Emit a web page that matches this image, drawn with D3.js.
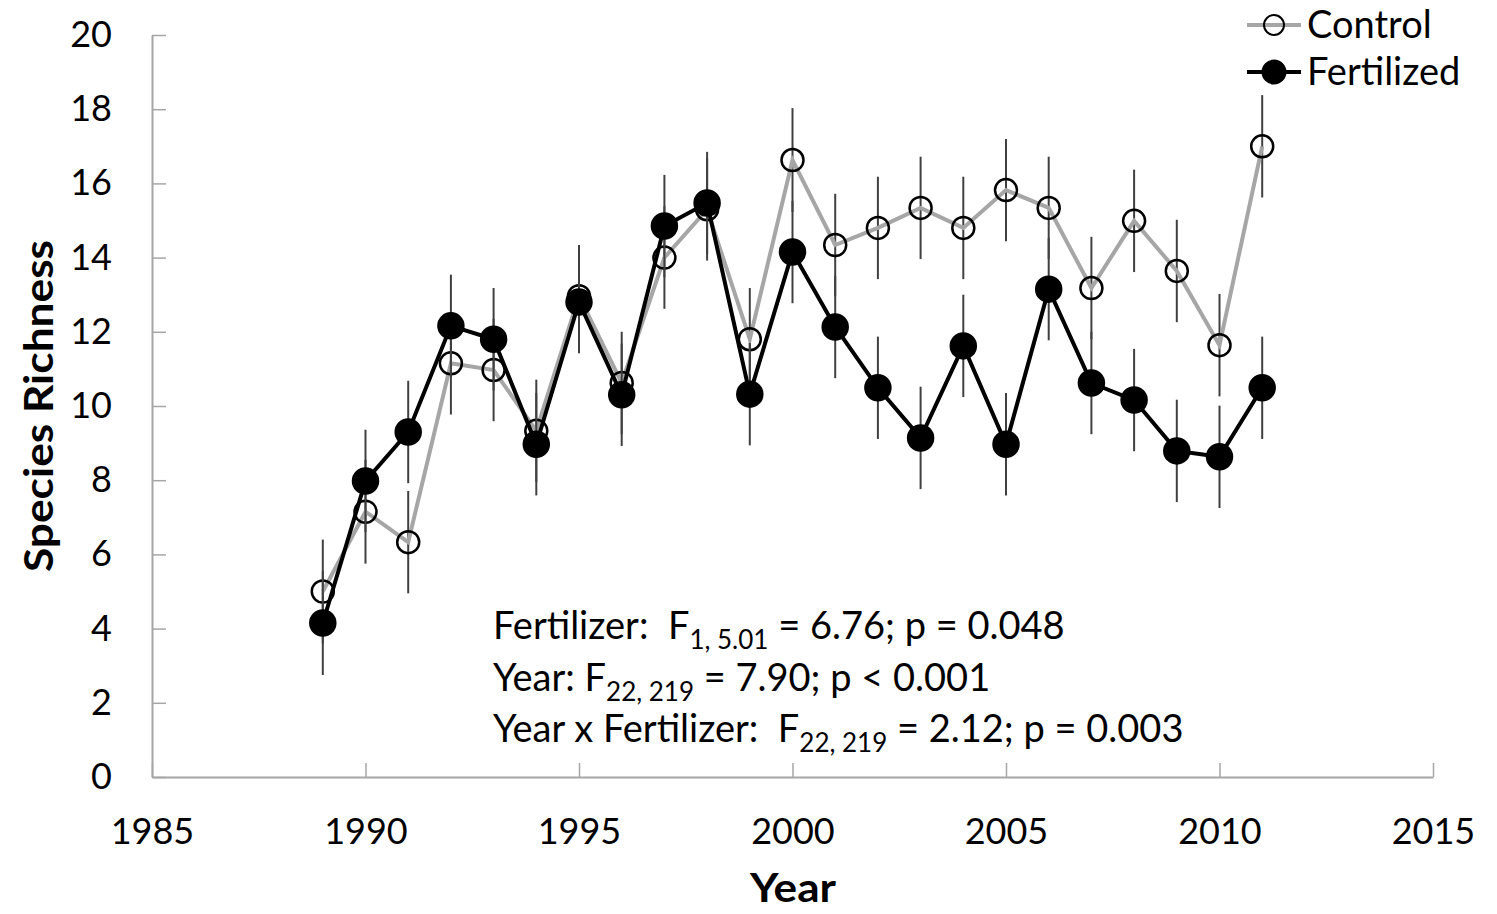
<!DOCTYPE html>
<html>
<head>
<meta charset="utf-8">
<script src="https://cdn.jsdelivr.net/npm/d3@7"></script>
<style>
  body { margin: 0; background: #fff; }
  text { font-family: Lato, "Open Sans", sans-serif; fill: #000; white-space: pre; }
</style>
</head>
<body>
<script>
// data
const years = [1989, 1990, 1991, 1992, 1993, 1994, 1995, 1996, 1997, 1998, 1999, 2000,
               2001, 2002, 2003, 2004, 2005, 2006, 2007, 2008, 2009, 2010, 2011];
const control = [5.0, 7.15, 6.33, 11.15, 10.97, 9.33, 12.96, 10.62, 14.0, 15.3, 11.8, 16.63,
                 14.34, 14.8, 15.34, 14.8, 15.82, 15.34, 13.18, 14.99, 13.64, 11.64, 17.0];
const fertilized = [4.15, 7.98, 9.3, 12.16, 11.8, 8.97, 12.8, 10.3, 14.85, 15.47, 10.32, 14.15,
                    12.13, 10.49, 9.14, 11.62, 8.97, 13.15, 10.62, 10.16, 8.79, 8.63, 10.49];
const controlSE = [1.4, 1.4, 1.38, 1.38, 1.38, 1.38, 1.38, 1.38, 1.38, 1.38, 1.38, 1.4,
                   1.38, 1.38, 1.38, 1.38, 1.38, 1.38, 1.38, 1.38, 1.38, 1.38, 1.38];
const fertilizedSE = [1.4, 1.38, 1.38, 1.38, 1.38, 1.38, 1.38, 1.38, 1.38, 1.38, 1.38, 1.38,
                      1.38, 1.38, 1.38, 1.38, 1.38, 1.38, 1.38, 1.38, 1.38, 1.38, 1.38];
const xTicks = [1985, 1990, 1995, 2000, 2005, 2010, 2015];
const yTicks = [0, 2, 4, 6, 8, 10, 12, 14, 16, 18, 20];
const statLines = [
  { pre: "Fertilizer:  F", sub: "1, 5.01", post: "= 6.76; p = 0.048" },
  { pre: "Year: F", sub: "22, 219", post: "= 7.90; p < 0.001" },
  { pre: "Year x Fertilizer:  F", sub: "22, 219", post: "= 2.12; p = 0.003" }
];

const W = 1497, H = 914;
const plot = { left: 152, right: 1433, top: 35, bottom: 777 };

const svg = d3.select("body").append("svg").attr("width", W).attr("height", H);

const x = d3.scaleLinear().domain([1985, 2015]).range([plot.left, plot.right]);
const y = d3.scaleLinear().domain([0, 20]).range([plot.bottom, plot.top]);

// axes
const axisColor = "#a6a6a6";
const gx = svg.append("g")
  .attr("transform", "translate(0," + plot.bottom + ")")
  .call(d3.axisBottom(x).tickValues(xTicks).tickFormat(d3.format("d"))
    .tickSizeInner(-14).tickSizeOuter(0).tickPadding(41));
const gy = svg.append("g")
  .attr("transform", "translate(" + plot.left + ",0)")
  .call(d3.axisLeft(y).tickValues(yTicks)
    .tickSizeInner(-14).tickSizeOuter(0).tickPadding(40));
[gx, gy].forEach(g => {
  g.select(".domain").attr("stroke", axisColor).attr("stroke-width", 2);
  g.selectAll(".tick line").attr("stroke", axisColor).attr("stroke-width", 1.5);
  g.selectAll(".tick text").attr("font-size", 36).attr("font-family", "Lato, sans-serif").attr("fill", "#000");
});

// axis titles
svg.append("text")
  .attr("x", 793).attr("y", 902)
  .attr("text-anchor", "middle")
  .attr("font-size", 40).attr("font-weight", "bold")
  .attr("textLength", 86).attr("lengthAdjust", "spacingAndGlyphs")
  .text("Year");
svg.append("text")
  .attr("transform", "translate(53,406) rotate(-90)")
  .attr("text-anchor", "middle")
  .attr("font-size", 40).attr("font-weight", "bold")
  .attr("textLength", 332).attr("lengthAdjust", "spacingAndGlyphs")
  .text("Species Richness");

// series
const series = [
  { name: "Control", values: control, se: controlSE, line: "#a6a6a6", fill: "none" },
  { name: "Fertilized", values: fertilized, se: fertilizedSE, line: "#000", fill: "#000" }
];

const line = d3.line().x(d => x(d.year)).y(d => y(d.v));

series.forEach(s => {
  const pts = years.map((yr, i) => ({ year: yr, v: s.values[i], se: s.se[i] }));
  const g = svg.append("g").attr("class", "series");

  g.selectAll(".err")
    .data(pts)
    .enter()
    .append("line")
    .attr("x1", d => x(d.year)).attr("x2", d => x(d.year))
    .attr("y1", d => y(d.v - d.se)).attr("y2", d => y(d.v + d.se))
    .attr("stroke", "#404040").attr("stroke-width", 2);

  g.append("path")
    .datum(pts)
    .attr("fill", "none")
    .attr("stroke", s.line)
    .attr("stroke-width", 4)
    .attr("d", line);

  g.selectAll(".pt")
    .data(pts)
    .enter()
    .append("circle")
    .attr("cx", d => x(d.year)).attr("cy", d => y(d.v))
    .attr("r", s.fill === "none" ? 11 : 12.5)
    .attr("fill", s.fill)
    .attr("stroke", "#000")
    .attr("stroke-width", 2.5);
});

// legend
const legend = svg.append("g").attr("transform", "translate(1247,0)");
series.forEach((s, i) => {
  const ly = 25 + i * 47;
  legend.append("line")
    .attr("x1", 0).attr("x2", 54).attr("y1", ly).attr("y2", ly)
    .attr("stroke", s.line).attr("stroke-width", 4);
  legend.append("circle")
    .attr("cx", 27).attr("cy", ly)
    .attr("r", s.fill === "none" ? 10 : 11.5)
    .attr("fill", s.fill === "none" ? "#fff" : s.fill)
    .attr("fill-opacity", s.fill === "none" ? 0 : 1)
    .attr("stroke", "#000").attr("stroke-width", 2);
  legend.append("text")
    .attr("x", 60).attr("y", ly + 13)
    .attr("font-size", 38)
    .text(s.name);
});

// statistics text
const stats = svg.append("g");
statLines.forEach((l, i) => {
  const t = stats.append("text")
    .attr("x", 493).attr("y", 639 + i * 51.5)
    .attr("font-size", 38);
  t.append("tspan").text(l.pre);
  t.append("tspan").attr("font-size", 26).attr("dy", 10).text(l.sub);
  t.append("tspan").attr("dy", -10).text(" " + l.post);
});
</script>
</body>
</html>
